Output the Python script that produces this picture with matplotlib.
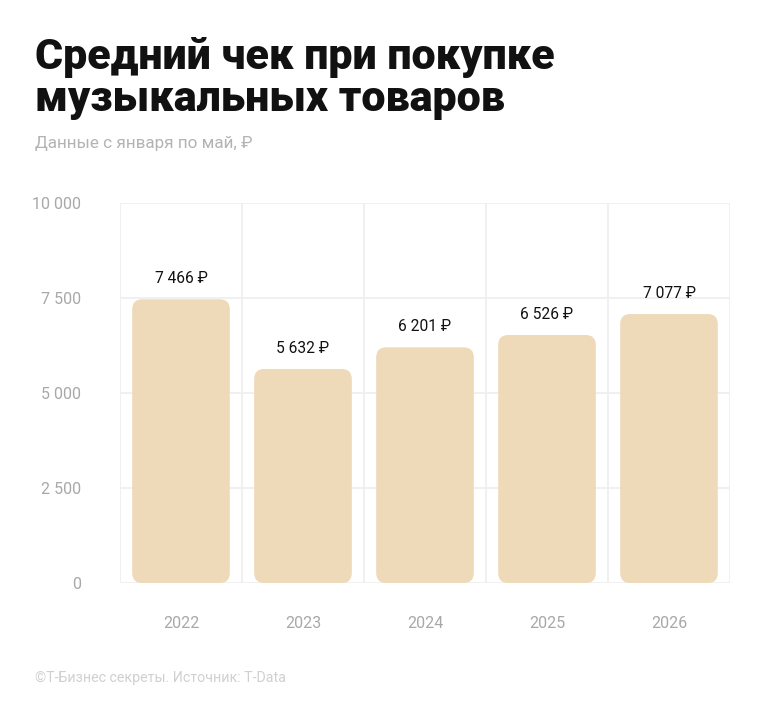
import matplotlib.pyplot as plt
from matplotlib.patches import FancyBboxPatch

years = ['2022', '2023', '2024', '2025', '2026']
values = [7466, 5632, 6201, 6526, 7077]
yticks = [0, 2500, 5000, 7500, 10000]
ytick_labels = ['0', '2 500', '5 000', '7 500', '10 000']

plt.rcParams['font.family'] = ['Roboto', 'DejaVu Sans']

fig = plt.figure(figsize=(7.64, 7.2), dpi=100)
ax = fig.add_axes([120/764, 1 - 583/720, 610/764, 380/720])

bar_color = '#eed9b8'
grid_color = '#efefef'
width = 0.8
# rounding radius ~10px converted into data units
rx = 10 / 122
ry = 10 * 10000 / 380
bars = ax.bar(range(len(years)), values, width=width, color='none')
for b, v in zip(bars, values):
    p = FancyBboxPatch((b.get_x(), 0), width, v,
                       boxstyle=f'round,pad=0,rounding_size={rx}',
                       mutation_aspect=ry / rx,
                       facecolor=bar_color, edgecolor='none', zorder=2)
    ax.add_patch(p)
    ax.text(b.get_x() + width / 2, v + 340, f'{v:,}'.replace(',', ' ') + ' ₽',
            ha='center', va='bottom', fontsize=11.2, color='#111111')

ax.set_xlim(-0.5, len(years) - 0.5)
ax.set_ylim(0, 10000)
ax.set_yticks(yticks)
ax.set_yticklabels(ytick_labels)
ax.set_xticks(range(len(years)))
ax.set_xticklabels(years)
for x in [i - 0.5 for i in range(len(years) + 1)]:
    ax.axvline(x, color=grid_color, lw=1.3, zorder=1)
for y in yticks:
    ax.axhline(y, color=grid_color, lw=1.3, zorder=1)
for s in ax.spines.values():
    s.set_visible(False)
ax.tick_params(length=0, labelsize=11.5, labelcolor='#a8a8a8')
ax.tick_params(axis='y', pad=28)
ax.tick_params(axis='x', pad=24)

title_kw = dict(fontsize=31, fontweight='black', color='#111111',
                ha='left', va='baseline')
fig.text(35/764, 1 - 69/720, 'Средний чек при покупке', **title_kw)
fig.text(35/764, 1 - 111/720, 'музыкальных товаров', **title_kw)
fig.text(35/764, 1 - 148/720, 'Данные с января по май, ₽', fontsize=12.3,
         color='#b3b3b3', ha='left', va='baseline')
fig.text(35/764, 1 - 682/720, '©Т-Бизнес секреты. Источник: T-Data', fontsize=10.3,
         color='#d0d0d0', ha='left', va='baseline')

fig.savefig('out.png', dpi=100)
